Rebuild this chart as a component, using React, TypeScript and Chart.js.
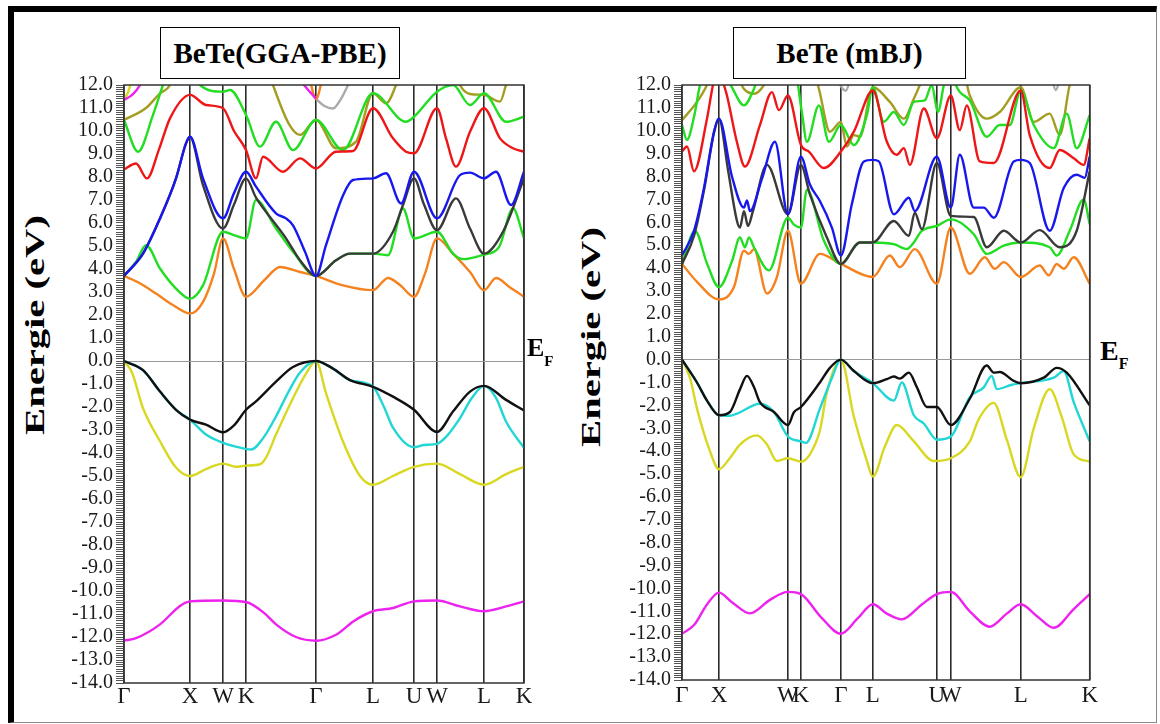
import React, { useEffect, useRef } from 'react';
import { Chart, registerables } from 'chart.js';

Chart.register(...registerables);

type Pt = [number, number];

const serif = '"Liberation Serif", "Times New Roman", serif';

// ---- axis definitions ----
const kLabels = ['Γ', 'X', 'W', 'K', 'Γ', 'L', 'U', 'W', 'L', 'K'];
const pbeKTicks = [0, 66, 99, 122, 192, 249, 290, 313, 360, 400];
const mbjKTicks = [0, 37, 106, 119, 159, 191, 255, 269, 339, 408];
const energyMin = -14;
const energyMax = 12;
const energyMinorSteps = 10; // minor ticks per 1 eV

// ---- BeTe (GGA-PBE) bands: [k, E] ----
const pbeMagenta: Pt[] = [[0,-12.16],[12,-12.05],[36,-11.45],[56,-10.65],[66,-10.45],[99,-10.41],[122,-10.48],[140,-10.95],[152,-11.45],[172,-12.0],[192,-12.16],[212,-11.9],[230,-11.3],[249,-10.88],[269,-10.74],[290,-10.45],[313,-10.41],[336,-10.67],[360,-10.88],[382,-10.67],[400,-10.45]];
const pbeYellow: Pt[] = [[0,0],[8,-0.5],[19,-2.05],[36,-3.49],[52,-4.63],[66,-5.0],[82,-4.7],[99,-4.46],[112,-4.6],[122,-4.55],[136,-4.49],[142,-4.2],[152,-3.2],[169,-1.62],[182,-0.55],[192,0],[202,-1.4],[219,-3.5],[236,-5.0],[249,-5.38],[269,-5.0],[290,-4.6],[313,-4.46],[336,-4.92],[360,-5.38],[382,-4.92],[400,-4.6]];
const pbeCyan: Pt[] = [[0,0],[19,-0.4],[36,-1.33],[52,-2.12],[66,-2.55],[82,-3.2],[99,-3.56],[110,-3.7],[127,-3.85],[140,-3.3],[152,-2.41],[165,-1.3],[176,-0.5],[192,0],[209,-0.33],[226,-0.83],[249,-1.12],[260,-2.0],[269,-2.9],[290,-3.75],[300,-3.65],[313,-3.6],[322,-3.3],[336,-2.48],[348,-1.6],[360,-1.08],[372,-1.6],[382,-2.63],[400,-3.78]];
const pbeBlackV: Pt[] = [[0,0],[19,-0.4],[36,-1.33],[52,-2.12],[66,-2.55],[82,-2.77],[99,-3.1],[110,-2.8],[122,-2.12],[132,-1.76],[152,-0.9],[169,-0.26],[192,0],[209,-0.33],[226,-0.83],[249,-1.12],[269,-1.55],[290,-2.12],[313,-3.08],[329,-2.2],[346,-1.33],[360,-1.08],[382,-1.69],[400,-2.15]];
const pbeOrange: Pt[] = [[0,3.7],[15,3.4],[32,2.93],[50,2.4],[66,2.06],[79,2.57],[90,3.8],[99,5.33],[110,4.0],[122,2.79],[140,3.5],[156,4.09],[176,3.87],[192,3.7],[219,3.29],[249,3.08],[264,3.61],[276,3.3],[290,2.79],[301,3.8],[313,5.33],[329,4.67],[346,3.87],[360,3.08],[372,3.61],[386,3.2],[400,2.79]];
const pbeGreenLow: Pt[] = [[0,3.7],[12,4.31],[22,5.04],[36,4.02],[52,3.15],[66,2.71],[79,3.29],[99,5.62],[110,5.47],[122,5.33],[132,7.0],[152,5.76],[169,4.75],[192,3.7],[212,4.38],[226,4.67],[249,4.67],[264,4.6],[279,6.63],[290,5.33],[313,5.62],[329,4.67],[339,4.43],[360,4.63],[375,4.95],[389,6.63],[400,5.33]];
const pbeBlackC: Pt[] = [[0,3.7],[19,4.67],[36,6.2],[52,7.94],[62,9.46],[66,9.75],[79,7.65],[99,5.76],[110,6.8],[122,7.94],[132,7.1],[142,6.49],[162,5.33],[176,4.38],[192,3.7],[212,4.38],[226,4.67],[249,4.67],[269,5.62],[279,6.78],[290,7.94],[300,6.8],[313,5.69],[332,7.07],[346,5.76],[360,4.67],[379,5.62],[400,7.94]];
const pbeBlue: Pt[] = [[0,3.7],[19,4.67],[36,6.2],[52,7.94],[62,9.46],[66,9.75],[79,7.94],[99,6.2],[110,7.3],[122,8.23],[132,7.58],[152,6.42],[162,6.2],[169,5.9],[181,4.75],[192,3.7],[202,5.04],[219,7.2],[229,7.87],[249,7.94],[262,8.16],[277,6.85],[290,8.23],[313,6.2],[336,8.08],[346,8.19],[360,7.94],[372,8.23],[387,6.78],[400,8.23]];
const pbeRed: Pt[] = [[0,8.33],[12,8.59],[23,7.94],[35,9.2],[46,10.55],[66,11.57],[82,11.13],[99,10.99],[110,10.0],[122,9.17],[132,7.94],[139,8.88],[159,8.23],[176,8.81],[192,8.37],[212,9.1],[229,9.13],[249,10.99],[269,9.68],[282,9.1],[290,9.03],[313,10.99],[322,9.68],[332,8.45],[346,9.97],[360,10.99],[376,9.68],[389,9.25],[400,9.1]];
const pbeGreenHigh: Pt[] = [[0,10.48],[14,9.1],[29,10.7],[39,12.0],[46,12.8],[70,12.8],[76,12.0],[99,11.71],[106,11.78],[122,10.7],[136,9.32],[152,10.4],[169,9.17],[192,10.48],[219,9.17],[249,11.64],[282,10.4],[290,10.62],[313,11.71],[329,12.0],[346,11.13],[360,11.64],[382,10.4],[400,10.62]];
const pbeOlive: Pt[] = [[0,10.48],[22,11.0],[36,11.64],[46,12.0],[52,12.8],[143,12.8],[149,12.0],[165,10.3],[176,9.83],[192,10.48],[212,9.25],[232,9.54],[249,11.64],[262,11.2],[272,12.0],[278,12.8],[330,12.8],[336,12.0],[346,11.61],[360,11.57],[376,11.28],[382,12.0],[388,12.8]];
const pbeTopMagentaA: Pt[] = [[0,11.35],[9,11.6],[16,12.0],[22,12.6]];
const pbeTopYellowA: Pt[] = [[0,11.35],[5,11.8],[9,12.6]];
const pbeTopMagentaB: Pt[] = [[170,12.6],[180,12.0],[192,11.4]];
const pbeTopOrangeB: Pt[] = [[184,12.6],[192,11.4],[200,12.6]];
const pbeTopGrayB: Pt[] = [[192,11.4],[200,11.1],[209,10.98],[217,11.4],[224,12.0],[230,12.6]];

// ---- BeTe (mBJ) bands: [k, E] ----
const mbjMagenta: Pt[] = [[0,-11.98],[12,-11.6],[25,-10.7],[37,-10.18],[50,-10.6],[68,-11.09],[88,-10.5],[106,-10.15],[119,-10.25],[140,-11.3],[159,-11.98],[176,-11.3],[191,-10.69],[205,-11.1],[220,-11.35],[240,-10.7],[255,-10.25],[269,-10.15],[288,-11.0],[308,-11.67],[325,-11.1],[339,-10.69],[355,-11.2],[372,-11.72],[392,-10.9],[408,-10.25]];
const mbjYellow: Pt[] = [[0,0],[8,-0.8],[15,-2.14],[28,-4.0],[37,-4.79],[48,-4.3],[58,-3.71],[75,-3.31],[85,-3.71],[95,-4.43],[106,-4.31],[119,-4.46],[128,-4.14],[138,-3.1],[145,-1.43],[159,0],[172,-2.5],[185,-4.43],[191,-5.11],[203,-3.8],[215,-2.86],[232,-3.57],[252,-4.43],[269,-4.31],[288,-3.57],[297,-2.6],[312,-1.89],[325,-3.5],[339,-5.14],[352,-3.0],[368,-1.29],[380,-2.5],[392,-4.14],[408,-4.46]];
const mbjCyan: Pt[] = [[0,0],[15,-1.0],[25,-1.79],[37,-2.43],[48,-2.45],[55,-2.36],[78,-1.93],[92,-2.29],[106,-3.36],[119,-3.57],[124,-3.64],[138,-2.14],[150,-0.8],[159,0],[172,-0.5],[191,-1.03],[212,-1.79],[220,-1.0],[232,-2.43],[242,-2.79],[255,-3.5],[269,-3.36],[288,-1.64],[302,-1.21],[310,-0.71],[315,-1.29],[330,-1.1],[339,-1.03],[372,-0.79],[382,-0.5],[392,-1.86],[408,-3.57]];
const mbjBlackV: Pt[] = [[0,0],[15,-1.0],[25,-1.79],[37,-2.43],[48,-2.29],[58,-1.3],[65,-0.71],[72,-1.2],[78,-1.86],[92,-2.29],[106,-2.86],[112,-2.3],[119,-2.07],[138,-1.0],[148,-0.36],[159,0],[172,-0.5],[191,-1.03],[205,-0.85],[212,-0.74],[218,-0.83],[227,-0.57],[235,-1.2],[245,-2.07],[255,-2.07],[269,-2.86],[288,-1.71],[305,-0.26],[312,-0.57],[318,-0.54],[332,-0.93],[339,-1.03],[362,-0.79],[375,-0.36],[385,-0.57],[408,-2.0]];
const mbjOrange: Pt[] = [[0,4.18],[15,3.4],[37,2.63],[52,3.17],[62,4.76],[67,4.62],[72,4.83],[85,2.89],[95,3.61],[106,5.63],[119,3.32],[138,4.62],[159,4.18],[191,3.61],[208,4.55],[218,4.04],[233,4.83],[255,3.32],[269,5.77],[288,3.75],[303,4.47],[313,3.97],[322,4.26],[339,3.61],[358,4.11],[367,3.68],[375,4.18],[382,3.97],[392,4.47],[408,3.32]];
const mbjGreenLow: Pt[] = [[0,4.18],[13,5.63],[25,4.2],[37,3.17],[50,4.3],[58,5.34],[63,4.91],[67,5.34],[72,4.91],[87,3.9],[106,6.2],[112,5.9],[119,5.77],[125,7.43],[142,5.19],[159,4.18],[178,5.12],[191,5.12],[212,5.05],[225,4.83],[232,5.12],[240,5.63],[255,5.84],[269,6.13],[292,5.48],[305,4.62],[322,4.98],[339,5.12],[368,4.91],[375,4.55],[388,5.63],[402,7.0],[408,5.92]];
const mbjBlackC: Pt[] = [[0,4.18],[12,5.4],[22,7.4],[32,9.9],[37,10.53],[46,8.3],[55,6.06],[58,5.77],[62,6.49],[66,5.84],[71,6.49],[85,8.51],[106,6.35],[119,8.51],[128,7.22],[145,5.34],[159,4.18],[178,5.12],[191,5.12],[212,6.06],[227,5.41],[233,6.42],[240,5.7],[255,8.59],[269,6.28],[292,6.23],[305,4.91],[322,5.63],[339,5.12],[358,5.66],[378,4.91],[395,5.63],[408,8.23]];
const mbjBlue: Pt[] = [[0,4.55],[12,5.63],[22,7.5],[32,9.96],[37,10.53],[50,8.0],[62,6.64],[65,6.96],[68,6.49],[80,7.9],[93,9.52],[106,6.35],[119,8.87],[128,7.65],[138,6.93],[150,5.77],[159,4.55],[170,6.8],[182,8.66],[191,8.73],[197,8.66],[212,6.35],[227,7.07],[233,6.49],[255,8.87],[269,6.64],[278,8.95],[292,6.64],[302,6.64],[312,6.2],[332,8.66],[339,8.73],[348,8.59],[368,5.63],[382,7.5],[395,8.08],[403,7.94],[408,8.87]];
const mbjRed: Pt[] = [[0,9.09],[5,9.31],[12,8.23],[25,10.53],[31,12.0],[37,12.9],[42,12.0],[45,11.54],[55,9.5],[63,8.44],[78,10.25],[90,11.69],[97,10.9],[106,11.54],[119,9.38],[127,9.09],[142,8.37],[159,9.09],[172,9.96],[191,11.76],[205,9.52],[215,8.95],[222,9.24],[228,8.51],[242,10.97],[255,9.67],[269,11.54],[278,10.03],[285,11.11],[298,8.66],[312,8.59],[339,11.76],[348,9.81],[368,8.37],[378,9.16],[392,8.8],[402,8.51],[408,9.67]];
const mbjGreenHigh: Pt[] = [[0,10.25],[5,9.6],[12,10.6],[18,12.0],[24,12.8],[40,12.8],[50,11.9],[62,11.11],[72,11.83],[80,12.8],[112,12.8],[120,10.8],[125,9.52],[137,11.11],[147,9.52],[159,10.25],[172,9.38],[185,10.68],[191,11.9],[202,10.39],[212,10.82],[222,10.25],[232,11.26],[243,11.33],[250,12.0],[256,10.82],[262,12.0],[266,12.8],[274,12.0],[278,11.69],[288,11.33],[305,9.74],[318,10.25],[328,10.25],[339,11.76],[352,10.25],[372,9.24],[385,10.75],[395,9.24],[408,10.68]];
const mbjOlive: Pt[] = [[0,10.46],[15,11.26],[25,12.0],[32,12.8],[50,12.8],[62,11.83],[72,11.62],[82,12.0],[90,12.8],[130,12.8],[137,11.83],[148,9.96],[159,10.39],[165,9.31],[172,9.81],[178,9.74],[191,11.9],[208,11.26],[222,10.53],[232,11.4],[238,12.0],[245,12.8],[280,12.8],[288,11.54],[305,10.53],[318,10.82],[339,11.9],[352,10.39],[368,10.75],[378,9.81],[388,12.0],[395,12.8]];
const mbjTopMagenta: Pt[] = [[0,11.95],[3,12.6]];
const mbjTopGrayB: Pt[] = [[153,12.6],[159,11.95],[164,11.75],[170,12.6]];
const mbjTopGrayC: Pt[] = [[369,12.6],[374,11.78],[380,12.6]];

// ---- colours ----
const C = {
  blackV: '#111111',
  blackC: '#3a3a3a',
  cyan: '#22d6d6',
  yellow: '#d8d822',
  magenta: '#ee22ee',
  blue: '#1818ee',
  orange: '#f5821e',
  green: '#22dd22',
  red: '#ee1616',
  olive: '#a39d22',
  gray: '#aaaaaa',
};

interface Band { data: Pt[]; color: string; }

// first entry is drawn on top
const pbeBands: Band[] = [
  { data: pbeBlackV, color: C.blackV },
  { data: pbeCyan, color: C.cyan },
  { data: pbeYellow, color: C.yellow },
  { data: pbeMagenta, color: C.magenta },
  { data: pbeBlue, color: C.blue },
  { data: pbeBlackC, color: C.blackC },
  { data: pbeGreenLow, color: C.green },
  { data: pbeOrange, color: C.orange },
  { data: pbeRed, color: C.red },
  { data: pbeGreenHigh, color: C.green },
  { data: pbeOlive, color: C.olive },
  { data: pbeTopMagentaA, color: C.magenta },
  { data: pbeTopYellowA, color: C.yellow },
  { data: pbeTopMagentaB, color: C.magenta },
  { data: pbeTopOrangeB, color: C.orange },
  { data: pbeTopGrayB, color: C.gray },
];

const mbjBands: Band[] = [
  { data: mbjBlackV, color: C.blackV },
  { data: mbjCyan, color: C.cyan },
  { data: mbjYellow, color: C.yellow },
  { data: mbjMagenta, color: C.magenta },
  { data: mbjBlue, color: C.blue },
  { data: mbjBlackC, color: C.blackC },
  { data: mbjGreenLow, color: C.green },
  { data: mbjOrange, color: C.orange },
  { data: mbjRed, color: C.red },
  { data: mbjGreenHigh, color: C.green },
  { data: mbjOlive, color: C.olive },
  { data: mbjTopMagenta, color: C.magenta },
  { data: mbjTopGrayB, color: C.gray },
  { data: mbjTopGrayC, color: C.gray },
];

const energyTicks: number[] = [];
for (let i = energyMin * energyMinorSteps; i <= energyMax * energyMinorSteps; i++) {
  energyTicks.push(i / energyMinorSteps);
}

const framePlugin = {
  id: 'frame',
  afterDatasetsDraw(chart: any) {
    const { ctx, chartArea } = chart;
    ctx.save();
    ctx.strokeStyle = '#333';
    ctx.lineWidth = 1.5;
    ctx.strokeRect(chartArea.left, chartArea.top, chartArea.right - chartArea.left, chartArea.bottom - chartArea.top);
    ctx.restore();
  },
};

interface PanelProps {
  bands: Band[];
  kTicks: number[];
  left: number; top: number; width: number; height: number;
  padRight: number; padTop: number; yAxisWidth: number; xAxisHeight: number; xLabelPad: number;
}

function BandPanel(p: PanelProps) {
  const ref = useRef<HTMLCanvasElement | null>(null);
  useEffect(() => {
    if (!ref.current) return;
    const chart = new Chart(ref.current, {
      type: 'line',
      data: {
        datasets: p.bands.map((b) => ({
          data: b.data.map(([x, y]) => ({ x, y })),
          borderColor: b.color,
          borderWidth: 2.4,
          pointRadius: 0,
          fill: false,
          cubicInterpolationMode: 'monotone' as const,
        })),
      },
      options: {
        animation: false,
        responsive: false,
        maintainAspectRatio: false,
        events: [],
        layout: { padding: { left: 0, right: p.padRight, top: p.padTop, bottom: 0 } },
        plugins: { legend: { display: false }, tooltip: { enabled: false } },
        scales: {
          x: {
            type: 'linear',
            min: p.kTicks[0],
            max: p.kTicks[p.kTicks.length - 1],
            afterBuildTicks: (axis: any) => { axis.ticks = p.kTicks.map((v) => ({ value: v })); },
            afterFit: (axis: any) => { axis.height = p.xAxisHeight; },
            ticks: {
              autoSkip: false,
              maxRotation: 0,
              minRotation: 0,
              padding: p.xLabelPad,
              color: '#1a1a1a',
              font: { family: serif, size: 23 },
              callback: (_v: any, i: number) => kLabels[i],
            },
            grid: { drawOnChartArea: true, drawTicks: false, color: '#2b2b2b', lineWidth: 1.6 },
            border: { display: false },
          },
          y: {
            type: 'linear',
            min: energyMin,
            max: energyMax,
            afterBuildTicks: (axis: any) => { axis.ticks = energyTicks.map((v) => ({ value: v })); },
            afterFit: (axis: any) => { axis.width = p.yAxisWidth; },
            ticks: {
              autoSkip: false,
              padding: 3,
              color: '#1a1a1a',
              font: { family: serif, size: 20 },
              callback: (v: any) => {
                const n = Number(v);
                return Math.abs(n - Math.round(n)) < 1e-6 ? n.toFixed(1) : '';
              },
            },
            grid: {
              drawOnChartArea: true,
              drawTicks: true,
              tickLength: 8,
              tickColor: '#555',
              tickWidth: 1,
              lineWidth: 1,
              color: (ctx: any) => (ctx.tick && Math.abs(ctx.tick.value) < 1e-9 ? '#9a9a9a' : 'rgba(0,0,0,0)'),
            },
            border: { display: false },
          },
        },
      },
      plugins: [framePlugin],
    } as any);
    return () => chart.destroy();
  }, []);
  return (
    <canvas
      ref={ref}
      width={p.width}
      height={p.height}
      style={{ position: 'absolute', left: p.left, top: p.top, width: p.width, height: p.height }}
    />
  );
}

const titleBox = (left: number, width: number): React.CSSProperties => ({
  position: 'absolute', left, top: 27, width, height: 52, border: '1px solid #000', boxSizing: 'border-box',
  background: '#fff', display: 'flex', alignItems: 'center', justifyContent: 'center',
  font: `bold 29px ${serif}`, color: '#000', whiteSpace: 'nowrap',
});

const yTitle = (cx: number, cy: number): React.CSSProperties => ({
  position: 'absolute', left: cx, top: cy, transform: 'translate(-50%, -50%) rotate(-90deg) scaleX(1.45)',
  font: `bold 28px ${serif}`, lineHeight: 1, whiteSpace: 'nowrap', color: '#000',
});

export default function App() {
  return (
    <div style={{ position: 'absolute', left: 0, top: 0, width: 1160, height: 724, background: '#fff', overflow: 'hidden' }}>
      <div style={{ position: 'absolute', left: 8, top: 6, width: 1149, height: 717, boxSizing: 'border-box', borderTop: '6px solid #000', borderLeft: '6px solid #000', borderRight: '1px solid #8a8a8a', borderBottom: '1px solid #8a8a8a' }} />
      <BandPanel bands={pbeBands} kTicks={pbeKTicks} left={56} top={70} width={480} height={652} padRight={12} padTop={10} yAxisWidth={68} xAxisHeight={39} xLabelPad={0} />
      <BandPanel bands={mbjBands} kTicks={mbjKTicks} left={614} top={70} width={486} height={652} padRight={10} padTop={9} yAxisWidth={68} xAxisHeight={42} xLabelPad={2} />
      <div style={titleBox(160, 240)}>BeTe(GGA-PBE)</div>
      <div style={titleBox(733, 233)}>BeTe (mBJ)</div>
      <div style={yTitle(35, 325)}>Energie (eV)</div>
      <div style={yTitle(591, 337)}>Energie (eV)</div>
      <div style={{ position: 'absolute', left: 527, top: 335, font: `bold 26px ${serif}`, lineHeight: 1, whiteSpace: 'nowrap', color: '#000' }}>
        E<span style={{ fontSize: 15, position: 'relative', top: 10 }}>F</span>
      </div>
      <div style={{ position: 'absolute', left: 1100, top: 337, font: `bold 28px ${serif}`, lineHeight: 1, whiteSpace: 'nowrap', color: '#000' }}>
        E<span style={{ fontSize: 16, position: 'relative', top: 9 }}>F</span>
      </div>
    </div>
  );
}
